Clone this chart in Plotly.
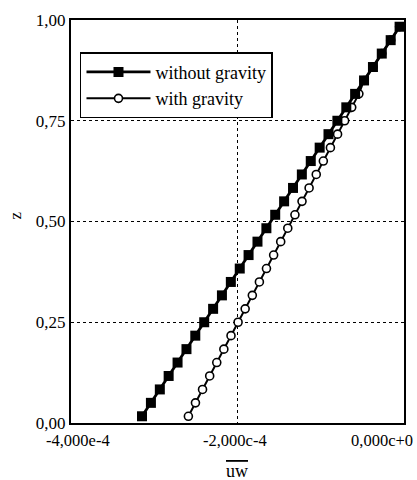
import plotly.graph_objects as go

# heights z (normalised)
z = [0.0167, 0.05, 0.0833, 0.1167, 0.15, 0.1833, 0.2167, 0.25, 0.2833, 0.3167,
     0.35, 0.3833, 0.4167, 0.45, 0.4833, 0.5167, 0.55, 0.5833, 0.6167, 0.65,
     0.6833, 0.7167, 0.75, 0.7833, 0.8167, 0.85, 0.8833, 0.9167, 0.95, 0.9833]

# uw values
uw_without = [-3.147e-4, -3.04e-4, -2.933e-4, -2.827e-4, -2.72e-4, -2.613e-4, -2.507e-4, -2.40e-4,
              -2.293e-4, -2.187e-4, -2.08e-4, -1.973e-4, -1.867e-4, -1.76e-4, -1.653e-4,
              -1.547e-4, -1.44e-4, -1.333e-4, -1.227e-4, -1.12e-4, -1.013e-4, -0.907e-4,
              -0.80e-4, -0.693e-4, -0.587e-4, -0.48e-4, -0.373e-4, -0.267e-4, -0.16e-4, -0.053e-4]
uw_with = [-2.59e-4, -2.505e-4, -2.42e-4, -2.334e-4, -2.249e-4, -2.164e-4, -2.078e-4, -1.993e-4,
           -1.908e-4, -1.822e-4, -1.737e-4, -1.652e-4, -1.566e-4, -1.481e-4, -1.396e-4,
           -1.31e-4, -1.225e-4, -1.14e-4, -1.054e-4, -0.969e-4, -0.884e-4, -0.798e-4,
           -0.713e-4, -0.628e-4, -0.542e-4, -0.48e-4, -0.373e-4, -0.267e-4, -0.16e-4, -0.053e-4]

series_names = ["without gravity", "with gravity"]
x_tickvals = [-4e-4, -2e-4, 0]
x_ticktext = ["-4,000e-4", "-2,000c-4", "0,000c+0"]
y_tickvals = [0, 0.25, 0.5, 0.75, 1.0]
y_ticktext = ["0,00", "0,25", "0,50", "0,75", "1,00"]

FONT = "Liberation Serif, Times New Roman, serif"

fig = go.Figure()
fig.add_trace(go.Scatter(
    x=uw_with, y=z, mode="lines+markers", name=series_names[1],
    line=dict(color="black", width=2),
    marker=dict(symbol="circle", size=8, color="white", line=dict(color="black", width=1.6)),
    legendrank=2))
fig.add_trace(go.Scatter(
    x=uw_without, y=z, mode="lines+markers", name=series_names[0],
    line=dict(color="black", width=2.8),
    marker=dict(symbol="square", size=10, color="black"),
    legendrank=1))

xshifts = [7, -3, 11]
xanchors = ["center", "center", "right"]
for v, t, s, a in zip(x_tickvals, x_ticktext, xshifts, xanchors):
    fig.add_annotation(x=v, xref="x", y=0, yref="paper", text=t, showarrow=False,
                       xanchor=a, yanchor="top", xshift=s, yshift=-6,
                       font=dict(family=FONT, size=16.5, color="black"))

fig.add_annotation(x=-2e-4, xref="x", y=0, yref="paper",
                   text="<span style='text-decoration:overline'>uw</span>",
                   showarrow=False, xanchor="center", yanchor="middle", xshift=-1, yshift=-48,
                   font=dict(family=FONT, size=18, color="black"))
fig.add_annotation(x=0, xref="paper", y=0.5, yref="paper", text="z", textangle=-90,
                   showarrow=False, xanchor="center", yanchor="middle", xshift=-56, yshift=6,
                   font=dict(family=FONT, size=17, color="black"))

fig.update_layout(
    width=417, height=480,
    margin=dict(l=71, r=11, t=15, b=57),
    plot_bgcolor="white", paper_bgcolor="white",
    font=dict(family=FONT, size=17, color="black"),
    showlegend=True,
    legend=dict(x=0.027, y=0.92, xanchor="left", yanchor="top",
                bgcolor="white", bordercolor="black", borderwidth=1.5,
                font=dict(family=FONT, size=18, color="black"),
                traceorder="normal", itemwidth=64),
)
fig.update_xaxes(range=[-4e-4, 0], tickvals=x_tickvals, showticklabels=False,
                 showgrid=True, gridcolor="black", gridwidth=1, griddash="dot",
                 zeroline=False, showline=True, linecolor="black", linewidth=2, mirror=True,
                 ticks="")
fig.update_yaxes(range=[0, 1], tickvals=y_tickvals, ticktext=y_ticktext,
                 showgrid=True, gridcolor="black", gridwidth=1, griddash="dot",
                 zeroline=False, showline=True, linecolor="black", linewidth=2, mirror=True,
                 ticks="", tickfont=dict(family=FONT, size=17, color="black"))

fig.write_html("out.html")
